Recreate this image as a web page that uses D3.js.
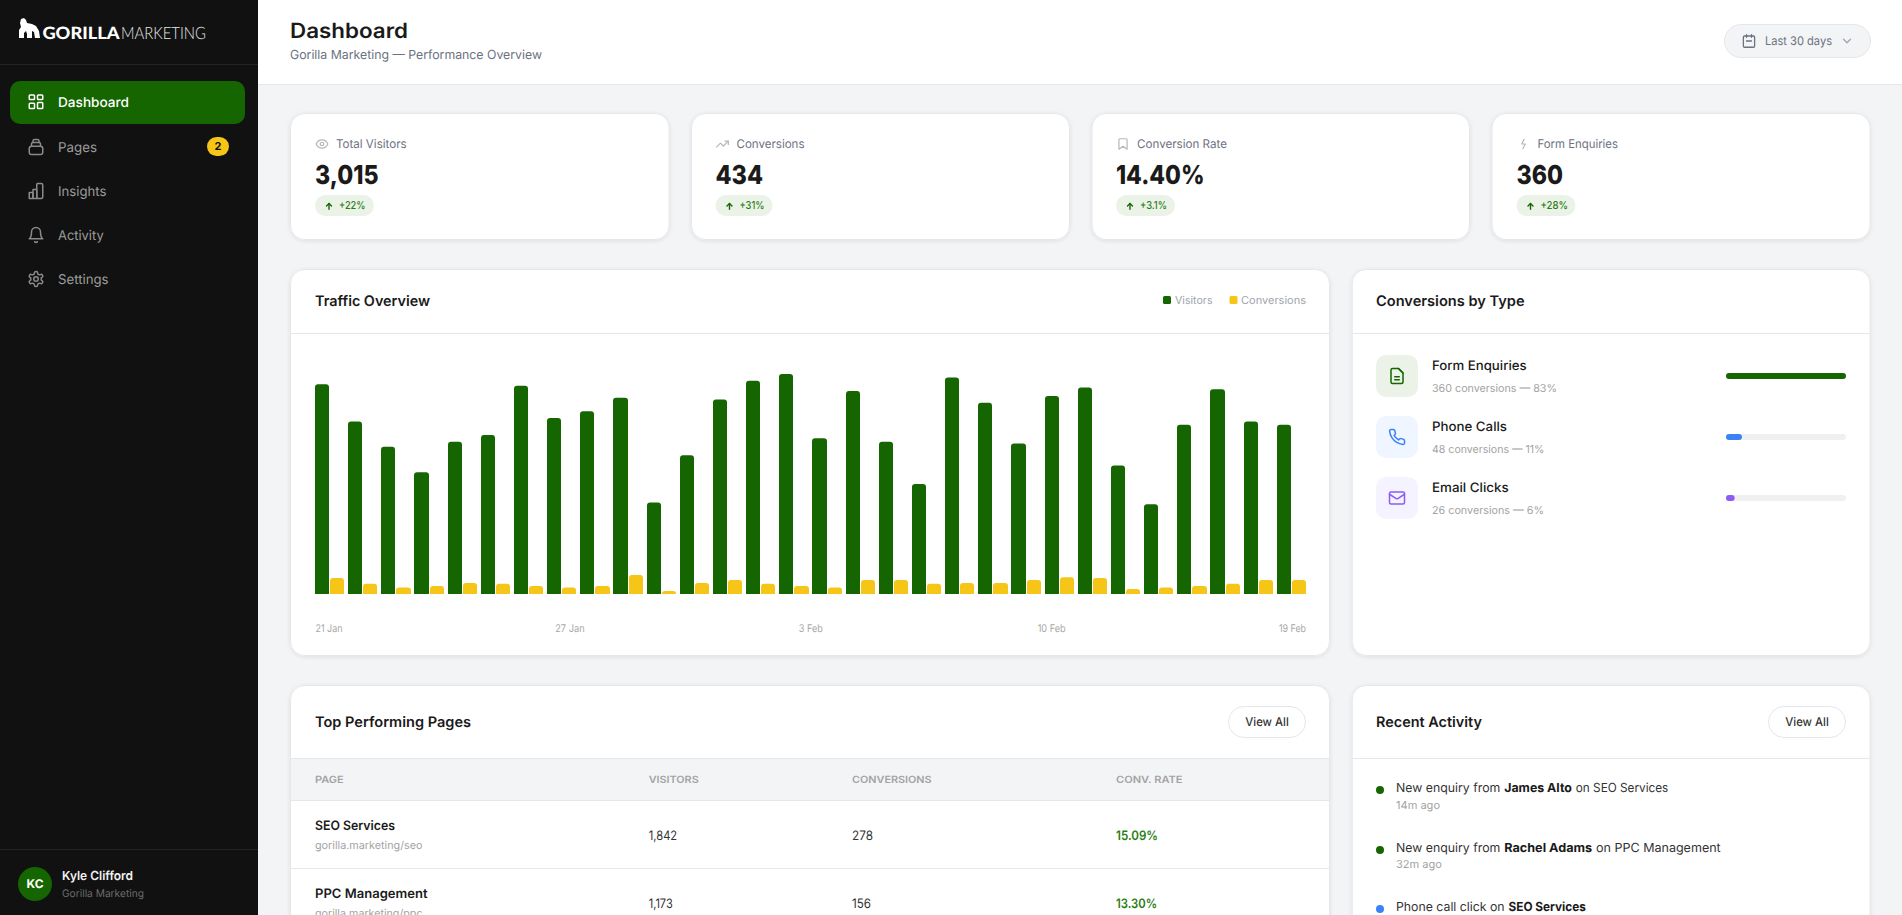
<!DOCTYPE html>
<html><head><meta charset="utf-8"><title>Dashboard</title>
<script src="https://cdn.jsdelivr.net/npm/d3@7"></script>
<style>
html,body{margin:0;padding:0;width:1902px;height:915px;overflow:hidden;background:#f3f4f6}
svg{display:block;font-family:Inter,"Noto Sans",sans-serif;text-rendering:geometricPrecision}
</style></head><body><div id="app"></div>
<script>
// ---------- data ----------
const navLabels=["Dashboard","Pages","Insights","Activity","Settings"];
const navIcons=["grid","archive","bars","bell","gear"];
const kpiLabels=["Total Visitors","Conversions","Conversion Rate","Form Enquiries"];
const kpiValues=["3,015","434","14.40%","360"];
const kpiDeltas=["+22%","+31%","+3.1%","+28%"];
const kpiIcons=["eye","trend","bookmark","bolt"];
const visitors=[124,102,87,72,90,94,123,104,108,116,54,82,115,126,130,92,120,90,65,128,113,89,117,122,76,53,100,121,102,100];
const conversions=[22,14,9,11,15,14,11,9,11,26,4,15,19,14,11,9,19,19,14,15,15,19,23,22,7,9,11,14,19,19];
const dayIndex=d3.range(visitors.length);
const tickLabels=["21 Jan","27 Jan","3 Feb","10 Feb","19 Feb"];
const seriesNames=["Visitors","Conversions"];
const typeNames=["Form Enquiries","Phone Calls","Email Clicks"];
const typeCounts=[360,48,26];
const typeShares=[83,11,6];
const typeIcons=["file","phone","mail"];
const tableHeads=["PAGE","VISITORS","CONVERSIONS","CONV. RATE"];
const pageNames=["SEO Services","PPC Management"];
const pageUrls=["gorilla.marketing/seo","gorilla.marketing/ppc"];
const pageVisitors=["1,842","1,173"];
const pageConversions=["278","156"];
const pageRates=["15.09%","13.30%"];
const activityLead=["New enquiry from","New enquiry from","Phone call click on"];
const activityName=["James Alto","Rachel Adams","SEO Services"];
const activityTail=["on SEO Services","on PPC Management",""];
const activityTime=["14m ago","32m ago","1h ago"];

// ---------- palette ----------
const GREEN="#156500",YELLOW="#f5c518",BLUE="#3b82f6",PURPLE="#8b5cf6",INK="#1a1a1a",
      BORDER="#e5e7eb",GREY="#6b7280",MUTED="#a3a3a3",PALE="#ebf3e8",DELTA="#2a7d12";

// ---------- helpers ----------
const svg=d3.select("#app").append("svg").attr("width",1902).attr("height",915);
const defs=svg.append("defs");
defs.append("filter").attr("id","sh").attr("x","-5%").attr("y","-5%").attr("width","110%").attr("height","115%")
  .append("feDropShadow").attr("dx",0).attr("dy",1).attr("stdDeviation",2).attr("flood-color","#000").attr("flood-opacity",.09);

function txt(g,x,cy,s,o){
  const t=g.append("text").attr("x",x).attr("y",cy+o.size*0.36).attr("font-size",o.size)
    .attr("font-weight",o.w||400).attr("fill",o.fill||INK).attr("text-anchor",o.a||"start").text(s);
  if(o.fit) t.attr("textLength",o.fit).attr("lengthAdjust","spacingAndGlyphs");
  if(o.family) t.attr("font-family",o.family);
  return t;
}
const ICONS={
 grid:["M4 3h5a1 1 0 0 1 1 1v4a1 1 0 0 1-1 1H4a1 1 0 0 1-1-1V4a1 1 0 0 1 1-1z","M15 3h5a1 1 0 0 1 1 1v4a1 1 0 0 1-1 1h-5a1 1 0 0 1-1-1V4a1 1 0 0 1 1-1z","M4 14h5a1 1 0 0 1 1 1v5a1 1 0 0 1-1 1H4a1 1 0 0 1-1-1v-5a1 1 0 0 1 1-1z","M15 13h5a1 1 0 0 1 1 1v6a1 1 0 0 1-1 1h-5a1 1 0 0 1-1-1v-6a1 1 0 0 1 1-1z"],
 archive:["M6 11h12a3 3 0 0 1 3 3v5a3 3 0 0 1-3 3H6a3 3 0 0 1-3-3v-5a3 3 0 0 1 3-3z","M6 11V8a2 2 0 0 1 2-2h8a2 2 0 0 1 2 2v3","M8 6V4a2 2 0 0 1 2-2h4a2 2 0 0 1 2 2v2"],
 bars:["M3 14h4a1 1 0 0 1 1 1v6a1 1 0 0 1-1 1H3z","M8 10h4a1 1 0 0 1 1 1v11H8z","M14 2h5a2 2 0 0 1 2 2v16a2 2 0 0 1-2 2h-5a1 1 0 0 1-1-1V3a1 1 0 0 1 1-1z"],
 bell:["M6 8a6 6 0 0 1 12 0c0 7 3 9 3 9H3s3-2 3-9","M13.73 21a2 2 0 0 1-3.46 0"],
 gear:["M12.22 2h-.44a2 2 0 0 0-2 2v.18a2 2 0 0 1-1 1.73l-.43.25a2 2 0 0 1-2 0l-.15-.08a2 2 0 0 0-2.73.73l-.22.38a2 2 0 0 0 .73 2.73l.15.1a2 2 0 0 1 1 1.72v.51a2 2 0 0 1-1 1.74l-.15.09a2 2 0 0 0-.73 2.73l.22.38a2 2 0 0 0 2.73.73l.15-.08a2 2 0 0 1 2 0l.43.25a2 2 0 0 1 1 1.73V20a2 2 0 0 0 2 2h.44a2 2 0 0 0 2-2v-.18a2 2 0 0 1 1-1.73l.43-.25a2 2 0 0 1 2 0l.15.08a2 2 0 0 0 2.73-.73l.22-.39a2 2 0 0 0-.73-2.73l-.15-.08a2 2 0 0 1-1-1.74v-.5a2 2 0 0 1 1-1.74l.15-.09a2 2 0 0 0 .73-2.73l-.22-.38a2 2 0 0 0-2.73-.73l-.15.08a2 2 0 0 1-2 0l-.43-.25a2 2 0 0 1-1-1.73V4a2 2 0 0 0-2-2z","M15 12a3 3 0 1 1-6 0 3 3 0 0 1 6 0z"],
 eye:["M2 12s3-7 10-7 10 7 10 7-3 7-10 7-10-7-10-7z","M15 12a3 3 0 1 1-6 0 3 3 0 0 1 6 0z"],
 trend:["M22 7l-8.5 8.5-5-5L2 17","M16 7h6v6"],
 bookmark:["M19 21l-7-5-7 5V5a2 2 0 0 1 2-2h10a2 2 0 0 1 2 2z"],
 bolt:["M13 4 9 12h6l-4 8"],
 calendar:["M5 4h14a2 2 0 0 1 2 2v14a2 2 0 0 1-2 2H5a2 2 0 0 1-2-2V6a2 2 0 0 1 2-2z","M16 2v4","M8 2v4","M8 12h8"],
 chevron:["M6 9l6 6 6-6"],
 up:["M12 20V6","M6 12l6-6 6 6"],
 file:["M14 2H6a2 2 0 0 0-2 2v16a2 2 0 0 0 2 2h12a2 2 0 0 0 2-2V8z","M14 2l6 6","M9 13h6","M9 17h6"],
 phone:["M22 16.92v3a2 2 0 0 1-2.18 2 19.79 19.79 0 0 1-8.63-3.07 19.5 19.5 0 0 1-6-6 19.79 19.79 0 0 1-3.07-8.67A2 2 0 0 1 4.11 2h3a2 2 0 0 1 2 1.72 12.84 12.84 0 0 0 .7 2.81 2 2 0 0 1-.45 2.11L8.09 9.91a16 16 0 0 0 6 6l1.27-1.27a2 2 0 0 1 2.11-.45 12.84 12.84 0 0 0 2.81.7A2 2 0 0 1 22 16.92z"],
 mail:["M4 4h16a2 2 0 0 1 2 2v12a2 2 0 0 1-2 2H4a2 2 0 0 1-2-2V6a2 2 0 0 1 2-2z","M22 7l-8.97 5.7a1.94 1.94 0 0 1-2.06 0L2 7"]
};
function icon(g,name,cx,cy,px,stroke,sw){
  const k=px/24;
  const i=g.append("g").attr("transform",`translate(${cx-px/2},${cy-px/2}) scale(${k})`)
    .attr("fill","none").attr("stroke",stroke).attr("stroke-width",sw/k)
    .attr("stroke-linecap","round").attr("stroke-linejoin","round");
  ICONS[name].forEach(d=>i.append("path").attr("d",d));
}
function card(x,y,w,h){
  return svg.append("rect").attr("x",x+.5).attr("y",y+.5).attr("width",w-1).attr("height",h-1).attr("rx",14)
    .attr("fill","#fff").attr("stroke",BORDER).attr("filter","url(#sh)");
}
function hline(g,x1,x2,y,c){g.append("rect").attr("x",x1).attr("y",y).attr("width",x2-x1).attr("height",1).attr("fill",c||BORDER);}
function viewAll(x,y){
  svg.append("rect").attr("x",x+.5).attr("y",y+.5).attr("width",77).attr("height",31).attr("rx",15.5).attr("fill","#fff").attr("stroke",BORDER);
  txt(svg,x+39,y+15.3,"View All",{size:12,w:500,fill:"#333",a:"middle",fit:43.5});
}

// ---------- sidebar ----------
const side=svg.append("g");
side.append("rect").attr("width",258).attr("height",915).attr("fill","#111111");
hline(side,0,258,64,"#232323");
side.append("path").attr("fill","#fff").attr("d","M21 19L24 18L26 20L27 23L32 24L36 26L39 31L40 38H35L34 32L32 31L32 38H27L27 34L26 31L24 33L24 38H19L19 30L21 27L20 23Z");
txt(side,42.4,32.5,"GORILLA",{size:17,w:900,fill:"#fff",family:"Lato",fit:77.2});
txt(side,121,32.5,"MARKETING",{size:17,w:300,fill:"#e8e8e8",family:"Lato",fit:85});
side.append("rect").attr("x",10).attr("y",81).attr("width",235).attr("height",43).attr("rx",10).attr("fill",GREEN);
const navY=[101.8,146.7,190.7,234.7,278.7],navW=[71,39,48.5,45.7,50.6];
navLabels.forEach((n,i)=>{
  const on=i===0;
  icon(side,navIcons[i],36,navY[i]+(on?0:.3),18,on?"#fff":"#8a8a8a",1.5);
  txt(side,58,navY[i],n,{size:13.5,w:on?500:400,fill:on?"#fff":"#9b9b9b",fit:navW[i]});
});
side.append("rect").attr("x",207).attr("y",137).attr("width",22).attr("height",19).attr("rx",9.5).attr("fill",YELLOW);
txt(side,218,146.5,"2",{size:11,w:700,fill:"#111",a:"middle"});
hline(side,0,258,849,"#232323");
side.append("circle").attr("cx",35).attr("cy",884).attr("r",17).attr("fill",GREEN);
txt(side,35,884,"KC",{size:12,w:700,fill:"#fff",a:"middle"});
txt(side,62,875,"Kyle Clifford",{size:12.5,w:600,fill:"#f2f2f2",fit:71});
txt(side,62,893,"Gorilla Marketing",{size:10.5,fill:"#6b6b6b",fit:82});

// ---------- header ----------
svg.append("rect").attr("x",258).attr("width",1644).attr("height",84).attr("fill","#fff");
hline(svg,258,1902,84);
txt(svg,290,30.5,"Dashboard",{size:21,w:600,fill:INK,fit:118});
txt(svg,290,54,"Gorilla Marketing \u2014 Performance Overview",{size:12.5,fill:GREY,fit:252});
svg.append("rect").attr("x",1724.5).attr("y",24.5).attr("width",146).attr("height",33).attr("rx",16.5).attr("fill","#f3f4f6").attr("stroke",BORDER);
icon(svg,"calendar",1749,41,15,GREY,1.3);
txt(svg,1765,41,"Last 30 days",{size:12,fill:GREY,fit:67});
icon(svg,"chevron",1847,41,14,"#9ca3af",1.2);

// ---------- KPI cards ----------
const kpiCardX=[290,691,1091.5,1491.5],kpiCardW=[379.6,379,378.5,379];
const kpiX=[290,690.5,1091,1491.5];
const kpiLabelW=[70.6,68,90,80.5],kpiValueW=[63.5,47.5,88.5,46.5],kpiPillW=[59,57,59,59],kpiDeltaW=[26.5,25,27,27.5];
kpiLabels.forEach((l,i)=>{
  const x=kpiX[i];
  card(kpiCardX[i],113,kpiCardW[i],127);
  icon(svg,kpiIcons[i],x+32,144,14,"#b3b7bf",1.2);
  txt(svg,x+46,144,l,{size:12,fill:GREY,fit:kpiLabelW[i]});
  txt(svg,x+25,174.5,kpiValues[i],{size:26,w:800,fill:INK,fit:kpiValueW[i]});
  svg.append("rect").attr("x",x+25).attr("y",195).attr("width",kpiPillW[i]).attr("height",21).attr("rx",10.5).attr("fill",PALE);
  icon(svg,"up",x+39,206,10,GREEN,1.4);
  txt(svg,x+49,204.8,kpiDeltas[i],{size:11,w:500,fill:DELTA,fit:kpiDeltaW[i]});
});

// ---------- traffic chart ----------
card(290,269,1040,387);
hline(svg,291,1329,333);
txt(svg,315,300.5,"Traffic Overview",{size:14.5,w:600,fill:INK,fit:115});
const legendSwatchX=[1163,1229.5],legendTextX=[1175,1241],legendW=[37.5,65];
seriesNames.forEach((n,i)=>{
  svg.append("rect").attr("x",legendSwatchX[i]).attr("y",296).attr("width",8).attr("height",8).attr("rx",1.5).attr("fill",i?YELLOW:GREEN);
  txt(svg,legendTextX[i],300,n,{size:11,fill:"#a0a4ab",fit:legendW[i]});
});
const x0=d3.scaleBand().domain(dayIndex).range([315,1306]).paddingInner(4/33.17);
const x1=d3.scaleBand().domain([0,1]).range([0,x0.bandwidth()]).paddingInner(2/x0.bandwidth()*1);
const yV=d3.scaleLinear().domain([0,130]).range([594,374]);
const yC=d3.scaleLinear().domain([0,26]).range([594,575]);
function topRound(xa,xb,yt,yb,r){
  const p=d3.path(),rr=Math.min(r,yb-yt,(xb-xa)/2);
  p.moveTo(xa,yb);p.lineTo(xa,yt+rr);p.quadraticCurveTo(xa,yt,xa+rr,yt);
  p.lineTo(xb-rr,yt);p.quadraticCurveTo(xb,yt,xb,yt+rr);p.lineTo(xb,yb);p.closePath();return p.toString();
}
const plot=svg.append("g").attr("class","plot");
plot.selectAll("path.v").data(dayIndex).join("path").attr("class","v").attr("fill",GREEN)
  .attr("d",i=>topRound(Math.round(x0(i)+x1(0)),Math.round(x0(i)+x1(0)+x1.bandwidth()),yV(visitors[i]),yV(0),3));
plot.selectAll("path.c").data(dayIndex).join("path").attr("class","c").attr("fill",YELLOW)
  .attr("d",i=>topRound(Math.round(x0(i)+x1(1)),Math.round(x0(i)+x1(1)+x1.bandwidth()),yC(conversions[i]),yC(0),3));
const tickW=[27,29.5,24,28,27];
const xTicks=d3.scalePoint().domain(tickLabels).range([328.5,1292]);
const axis=svg.append("g").attr("transform","translate(0,624.8)").call(d3.axisBottom(xTicks).tickSize(0).tickPadding(0));
axis.select(".domain").remove();
axis.selectAll("text").attr("font-family","Inter").attr("font-size",10.5).attr("fill","#a8a8a8")
  .attr("textLength",(d,i)=>tickW[i]).attr("lengthAdjust","spacingAndGlyphs");

// ---------- conversions by type ----------
card(1351.7,269,518.8,387);
hline(svg,1352.7,1869.5,333);
txt(svg,1376,301,"Conversions by Type",{size:14.5,w:600,fill:INK,fit:148.6});
const typeY=d3.scalePoint().domain(d3.range(typeNames.length)).range([355,477]);
const typeBar=d3.scaleLinear().domain([0,d3.max(typeCounts)]).range([0,120]);
const typeColor=[GREEN,BLUE,PURPLE],typeBg=[PALE,"#eff6ff","#f5f3ff"];
const typeNameW=[94.6,75,76.7],typeSubW=[125,112.5,112];
typeNames.forEach((n,i)=>{
  const y=typeY(i);
  svg.append("rect").attr("x",1376).attr("y",y).attr("width",42).attr("height",42).attr("rx",10).attr("fill",typeBg[i]);
  icon(svg,typeIcons[i],1397,y+21,18,typeColor[i],1.5);
  txt(svg,1432,y+10.7,n,{size:13,w:500,fill:INK,fit:typeNameW[i]});
  txt(svg,1432,y+33,`${typeCounts[i]} conversions \u2014 ${typeShares[i]}%`,{size:11,fill:MUTED,fit:typeSubW[i]});
  svg.append("rect").attr("x",1726).attr("y",y+18).attr("width",120).attr("height",6).attr("rx",3).attr("fill","#f0f0f1");
  svg.append("rect").attr("x",1726).attr("y",y+18).attr("width",typeBar(typeCounts[i])).attr("height",6).attr("rx",3).attr("fill",typeColor[i]);
});

// ---------- table ----------
card(290,685,1040,300);
hline(svg,291,1329,758);
txt(svg,315,722,"Top Performing Pages",{size:14.5,w:600,fill:INK,fit:156});
viewAll(1228,706);
svg.append("rect").attr("x",291).attr("y",759).attr("width",1038).attr("height",41).attr("fill","#f3f4f6");
hline(svg,291,1329,800);
const colX=[315,648.7,852,1116],headW=[28.7,50,79.6,66.5];
tableHeads.forEach((h,i)=>txt(svg,colX[i],779,h,{size:10,w:600,fill:"#a3a3a3",fit:headW[i]}));
const rowY=[800,868],nameW=[80,112.5],urlW=[107.5,107.5],visW=[28.5,24],convW=[21,19],rateW=[42,41];
pageNames.forEach((n,i)=>{
  const y=rowY[i];
  txt(svg,315,y+25,n,{size:13,w:600,fill:INK,fit:nameW[i]});
  txt(svg,315,y+45.5,pageUrls[i],{size:11,fill:MUTED,fit:urlW[i]});
  txt(svg,colX[1],y+35,pageVisitors[i],{size:13,fill:"#333",fit:visW[i]});
  txt(svg,colX[2],y+35,pageConversions[i],{size:13,fill:"#333",fit:convW[i]});
  txt(svg,colX[3],y+35,pageRates[i],{size:13,w:600,fill:DELTA,fit:rateW[i]});
  if(i<pageNames.length-1) hline(svg,291,1329,y+68);
});

// ---------- activity ----------
card(1351.7,685,518.8,300);
hline(svg,1352.7,1869.5,758);
txt(svg,1376,722,"Recent Activity",{size:14.5,w:600,fill:INK,fit:106});
viewAll(1768,706);
const actY=[787,847,906],actDotC=[GREEN,GREEN,BLUE],leadW=[104.3,104.3,108.6],boldX=[1504.2,1504.2,1508.5],boldW=[67.7,88,77.4],tailX=[1575.8,1596,0],tailW=[92.5,124.7,0],timeW=[44,46,36],timeOff=[18,17,17];
activityLead.forEach((l,i)=>{
  const y=actY[i];
  svg.append("circle").attr("cx",1380).attr("cy",y+3).attr("r",4).attr("fill",actDotC[i]);
  txt(svg,1396,y,l,{size:12.5,fill:"#333",fit:leadW[i]});
  txt(svg,boldX[i],y,activityName[i],{size:12.5,w:700,fill:INK,fit:boldW[i]});
  if(activityTail[i]) txt(svg,tailX[i],y,activityTail[i],{size:12.5,fill:"#333",fit:tailW[i]});
  txt(svg,1396,y+timeOff[i],activityTime[i],{size:11,fill:MUTED,fit:timeW[i]});
});
</script></body></html>
